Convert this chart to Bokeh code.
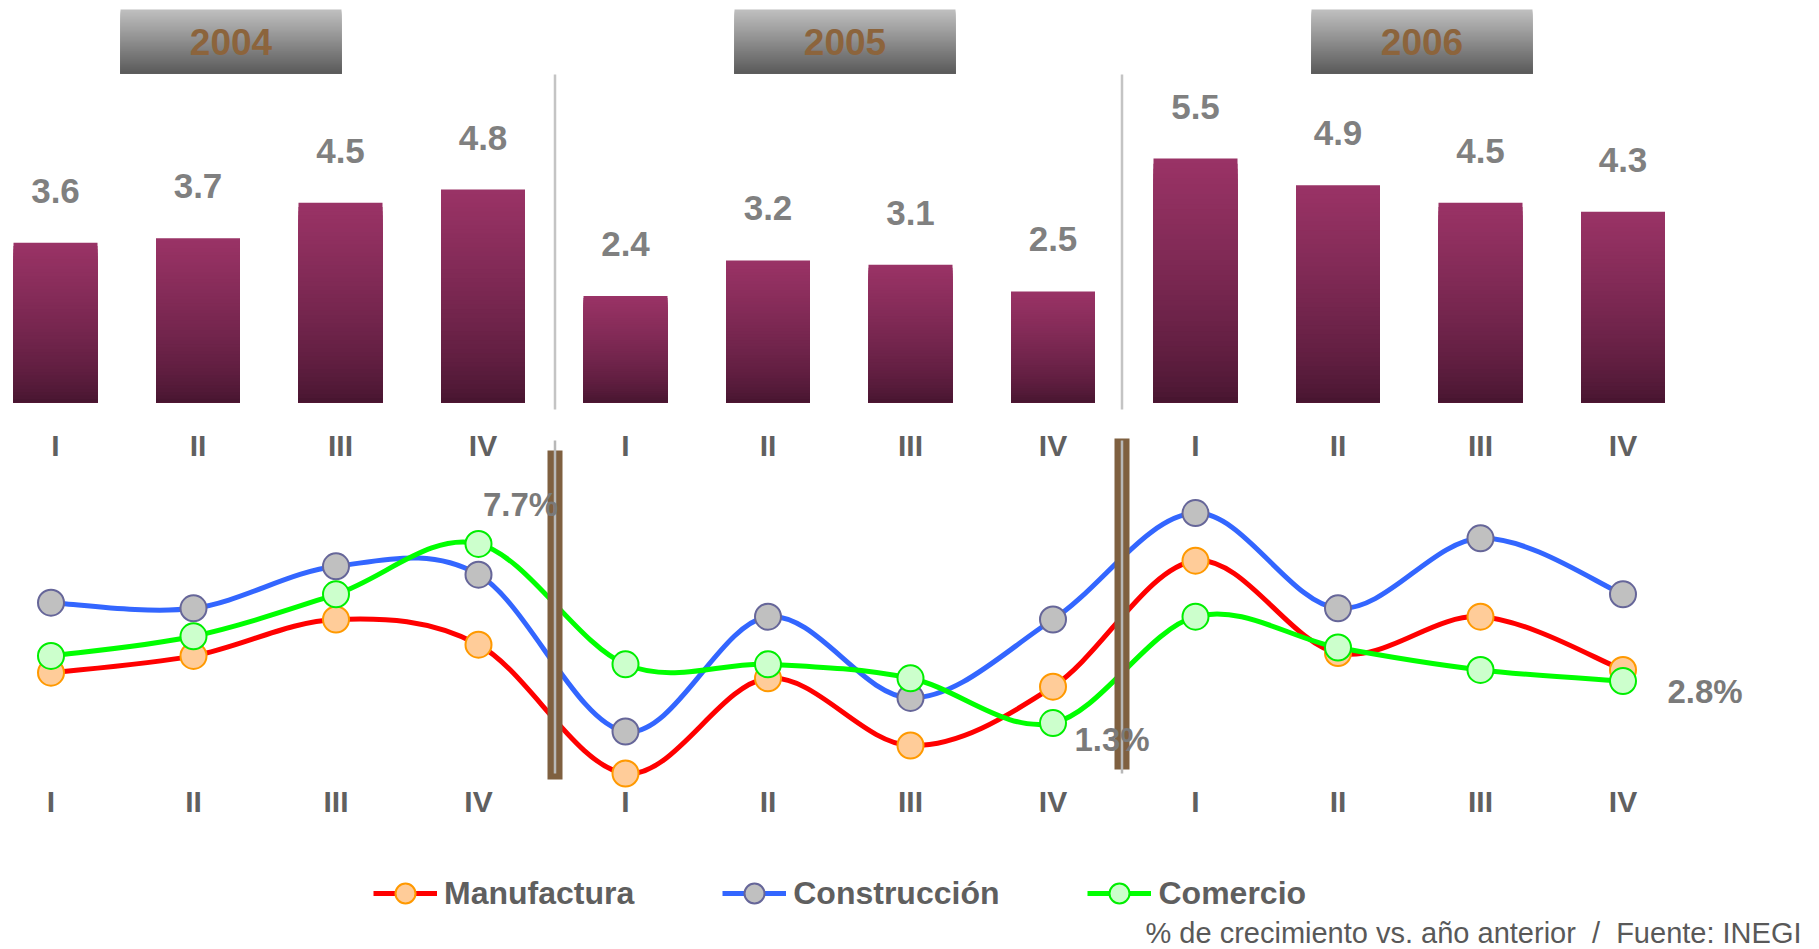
import numpy as np
from bokeh.plotting import figure
from bokeh.models import Range1d, Legend, LegendItem, Label, ColumnDataSource
from bokeh.core.properties import value
from bokeh.embed import file_html
from bokeh.resources import INLINE

# ---- data -----------------------------------------------------------------
years = ["2004", "2005", "2006"]
quarters = ["I", "II", "III", "IV"]

# PIB, % growth per quarter (bars)
pib = [3.6, 3.7, 4.5, 4.8, 2.4, 3.2, 3.1, 2.5, 5.5, 4.9, 4.5, 4.3]

# sector growth per quarter (lines)
manufactura = [3.1, 3.7, 5.0, 4.1, -0.5, 2.9, 0.5, 2.6, 7.1, 3.8, 5.1, 3.2]
construccion = [5.6, 5.4, 6.9, 6.6, 1.0, 5.1, 2.2, 5.0, 8.8, 5.4, 7.9, 5.9]
comercio = [3.7, 4.4, 5.9, 7.7, 3.4, 3.4, 2.9, 1.3, 5.1, 4.0, 3.2, 2.8]

# quarters of Comercio that carry a value label
comercio_labeled = [3, 7, 11]

# ---- canvas geometry --------------------------------------------------------
W, H = 1819, 949
X0, STEP = 55.0, 142.5          # pixel centre of first quarter, quarter spacing
BAR_ZERO, BAR_PX = 401.7, 44.3  # bar baseline (px from top), px per unit
PCT_ZERO, PCT_PX = 759.0, 28.0  # line-chart zero (px from top), px per unit
LOWER_SHIFT_PX = [-4.5, 0.0, 0.0]   # per-year nudge of the lower panel
SEP_PX = [554.5, 1121.5]            # year dividers


def bar_y(px):
    return (BAR_ZERO - px) / BAR_PX


def pct_y(px):
    return (PCT_ZERO - px) / PCT_PX


def ix(px):
    return (px - X0) / STEP


FONT = value("Liberation Sans")

p = figure(width=W, height=H, output_backend="svg", toolbar_location=None,
           x_axis_type=None, y_axis_type=None, min_border=0,
           x_range=Range1d(ix(0), ix(W)),
           y_range=Range1d(bar_y(H), bar_y(0)))
p.extra_y_ranges = {"pct": Range1d(pct_y(H), pct_y(0))}
p.outline_line_color = None
p.background_fill_color = "white"
p.border_fill_color = "white"

n = len(pib)
xs = np.arange(n, dtype=float)
xs_low = xs + np.repeat(LOWER_SHIFT_PX, len(quarters)) / STEP
labels = [q for _ in years for q in quarters]
bounds = [ix(v) for v in SEP_PX]


def mix(c0, c1, t):
    a = np.array(c0, float)
    b = np.array(c1, float)
    r, g, bl = (a + (b - a) * t).round().astype(int)
    return "#%02x%02x%02x" % (r, g, bl)


# ---- year headers (gradient boxes) -----------------------------------------
# each band reaches down to the box bottom; drawn top-first so that later
# bands cover the lower part and no seams appear
BOX_CENTER_PX = [230.5, 844.5, 1421.5]
BOX_W_PX, BOX_TOP_PX, BOX_BOT_PX = 221, 9, 73
NS = 32
bl, br, bt, bb, bc = [], [], [], [], []
for cpx in BOX_CENTER_PX:
    for k in range(NS):
        y_a = BOX_TOP_PX + (BOX_BOT_PX - BOX_TOP_PX) * k / NS
        bl.append(ix(cpx - BOX_W_PX / 2))
        br.append(ix(cpx + BOX_W_PX / 2))
        bt.append(bar_y(y_a))
        bb.append(bar_y(BOX_BOT_PX))
        bc.append(mix((192, 192, 192), (90, 90, 90), (k + 0.5) / NS))
p.quad(left=bl, right=br, top=bt, bottom=bb, fill_color=bc, line_color=None)
p.text(x=[ix(c) for c in BOX_CENTER_PX], y=[bar_y(41)] * len(years), text=years,
       text_align="center", text_baseline="middle", text_font=FONT,
       text_font_size="37px", text_font_style="bold", text_color="#8c643c")

# ---- bars with vertical gradient -------------------------------------------
BAR_W = 84 / STEP
NB = 48
ql, qr, qt, qb, qc = [], [], [], [], []
for k in reversed(range(NB)):
    t = (k + 0.5) / NB
    for i, v in enumerate(pib):
        ql.append(xs[i] - BAR_W / 2)
        qr.append(xs[i] + BAR_W / 2)
        qb.append(0.0)
        qt.append(v * (k + 1) / NB)
        qc.append(mix((68, 20, 46), (154, 51, 102), t ** 0.7))
p.quad(left=ql, right=qr, top=qt, bottom=qb, fill_color=qc, line_color=None)

p.text(x=xs, y=pib, text=[f"{v:.1f}" for v in pib], y_offset=-52,
       text_align="center", text_baseline="middle", text_font=FONT,
       text_font_size="35px", text_font_style="bold", text_color="#808080")

p.text(x=xs, y=[bar_y(444.5)] * n, text=labels, text_align="center",
       text_baseline="middle", text_font=FONT, text_font_size="30px",
       text_font_style="bold", text_color="#606060")

# thin separators between years (upper panel)
p.segment(x0=bounds, x1=bounds, y0=[bar_y(74)] * 2, y1=[bar_y(409)] * 2,
          line_color="#c4c4c4", line_width=2.5)


# ---- smoothed lines -------------------------------------------------------
def smooth_segments(xv, yv):
    P = np.column_stack([xv, np.array(yv, float)])
    m = len(P)
    out = {k: [] for k in ("x0", "y0", "x1", "y1", "cx0", "cy0", "cx1", "cy1")}
    for i in range(m - 1):
        a = P[i - 1] if i > 0 else P[i]
        d = P[i + 2] if i + 2 < m else P[i + 1]
        c1 = P[i] + (P[i + 1] - a) / 6.0
        c2 = P[i + 1] - (d - P[i]) / 6.0
        out["x0"].append(P[i][0]); out["y0"].append(P[i][1])
        out["x1"].append(P[i + 1][0]); out["y1"].append(P[i + 1][1])
        out["cx0"].append(c1[0]); out["cy0"].append(c1[1])
        out["cx1"].append(c2[0]); out["cy1"].append(c2[1])
    return out


series = [
    ("Manufactura", manufactura, "#ff0000", "#ffcc99", "#ff9900"),
    ("Construcción", construccion, "#3366ff", "#c0c0c0", "#666699"),
    ("Comercio", comercio, "#00ff00", "#ccffcc", "#00ee00"),
]
items = []
for name, vals, lc, mf, ml in series:
    seg = ColumnDataSource(smooth_segments(xs_low, vals))
    p.bezier(x0="x0", y0="y0", x1="x1", y1="y1", cx0="cx0", cy0="cy0",
             cx1="cx1", cy1="cy1", source=seg, line_color=lc, line_width=5,
             line_cap="round", y_range_name="pct")
    # legend key only (no visible points)
    key = p.line(x=[np.nan], y=[np.nan], line_color=lc, line_width=5,
                 y_range_name="pct")
    mk = p.scatter(x=xs_low, y=vals, marker="circle", size=26, fill_color=mf,
                   line_color=ml, line_width=2, y_range_name="pct")
    items.append(LegendItem(label=name, renderers=[key, mk]))

# brown dividers between years (lower panel)
BROWN_TOP_PX = [450, 438]
BROWN_BOT_PX = [779, 769]
p.segment(x0=bounds, x1=bounds, y0=[pct_y(v) for v in BROWN_TOP_PX],
          y1=[pct_y(v) for v in BROWN_BOT_PX], line_color="#7f6040",
          line_width=15, line_cap="butt", y_range_name="pct")
p.segment(x0=bounds, x1=bounds, y0=[pct_y(440)] * 2, y1=[pct_y(773)] * 2,
          line_color="#b8b8b8", line_width=2.5, y_range_name="pct")

# value labels on Comercio
LBL_DX = [4.5, 21.5, 44.5]
LBL_DY = [-39.5, 16.0, 10.5]
lab = ColumnDataSource(dict(
    x=[xs_low[i] for i in comercio_labeled],
    y=[comercio[i] for i in comercio_labeled],
    t=[f"{comercio[i]:.1f}%" for i in comercio_labeled],
    dx=LBL_DX, dy=LBL_DY))
p.text(x="x", y="y", text="t", x_offset="dx", y_offset="dy", source=lab,
       text_align="left", text_baseline="middle", text_font=FONT,
       text_font_size="33px", text_font_style="bold", text_color="#7a7a7a",
       y_range_name="pct")

p.text(x=xs_low, y=[pct_y(801)] * n, text=labels, text_align="center",
       text_baseline="middle", text_font=FONT, text_font_size="30px",
       text_font_style="bold", text_color="#606060", y_range_name="pct")

# ---- legend and source note -------------------------------------------------
legend = Legend(items=items, orientation="horizontal", location=(373, 31),
                glyph_width=64, glyph_height=50, label_standoff=7, spacing=88,
                padding=0, margin=0, border_line_color=None,
                background_fill_alpha=0, label_text_font="Liberation Sans",
                label_text_font_size="32px", label_text_font_style="bold",
                label_text_color="#5f5f5f")
p.add_layout(legend)

NB_SP = "\u00a0"
note = f"% de crecimiento vs. año anterior{NB_SP}{NB_SP}/{NB_SP}{NB_SP}Fuente: INEGI"
p.add_layout(Label(x=1145, y=H - 932.5, x_units="screen", y_units="screen",
                   text=note, text_align="left", text_baseline="middle",
                   text_font="Liberation Sans", text_font_size="29px",
                   text_color="#595959"))

open("out.html", "w").write(file_html(p, INLINE))
